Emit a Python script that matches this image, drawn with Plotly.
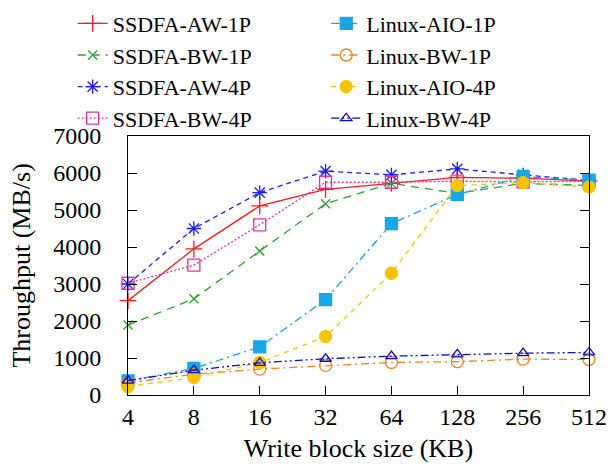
import math
import plotly.graph_objects as go

block_kb = [4, 8, 16, 32, 64, 128, 256, 512]
tick_labels = ["4", "8", "16", "32", "64", "128", "256", "512"]

ssdfa_aw_1p = [2550, 3950, 5110, 5560, 5720, 5880, 5860, 5780]
ssdfa_bw_1p = [1890, 2600, 3890, 5170, 5720, 5450, 5720, 5660]
ssdfa_aw_4p = [3000, 4500, 5470, 6050, 5950, 6110, 5950, 5800]
ssdfa_bw_4p = [3020, 3510, 4600, 5750, 5750, 5780, 5760, 5780]
linux_aio_1p = [380, 720, 1300, 2580, 4630, 5420, 5900, 5810]
linux_bw_1p = [330, 560, 700, 800, 880, 900, 970, 960]
linux_aio_4p = [230, 470, 880, 1580, 3290, 5660, 5740, 5620]
linux_bw_4p = [390, 670, 870, 980, 1050, 1100, 1130, 1150]

FONT = "Times New Roman"

series = [
    ("SSDFA-AW-1P", ssdfa_aw_1p, "#ff1a1a", "solid", "cross-thin", 12, "legend"),
    ("SSDFA-BW-1P", ssdfa_bw_1p, "#2ba22b", "8px,6px", "x-thin", 9, "legend"),
    ("SSDFA-AW-4P", ssdfa_aw_4p, "#1a1aff", "5px,4px", "asterisk", 12, "legend"),
    ("SSDFA-BW-4P", ssdfa_bw_4p, "#e6339a", "2px,2px", "square-open", 12, "legend"),
    ("Linux-AIO-1P", linux_aio_1p, "#16a8e6", "8px,4px,2px,4px", "square", 12, "legend2"),
    ("Linux-BW-1P", linux_bw_1p, "#f5801f", "8px,4px,2px,4px", "circle-open", 12, "legend2"),
    ("Linux-AIO-4P", linux_aio_4p, "#f5c400", "5px,5px", "circle", 12, "legend2"),
    ("Linux-BW-4P", linux_bw_4p, "#0b0bc8", "8px,3px,2px,3px,2px,3px", "triangle-up-open", 10, "legend2"),
]

fig = go.Figure()
for name, vals, color, dash, sym, size, leg in series:
    fig.add_trace(go.Scatter(
        x=block_kb, y=vals, name=name, mode="lines+markers",
        line=dict(color=color, width=1.3, dash=dash),
        marker=dict(symbol=sym, size=size, color=color,
                    line=dict(color=color, width=1.3)),
        cliponaxis=False, legend=leg,
    ))

legend_common = dict(
    font=dict(family=FONT, size=22, color="black"),
    bgcolor="rgba(0,0,0,0)", yanchor="top", xanchor="left",
    orientation="v", itemwidth=30,
)

x_lo = math.log10(block_kb[0]) - 1e-4
x_hi = math.log10(block_kb[-1]) + 1e-4

fig.update_layout(
    width=615, height=473,
    margin=dict(l=128, r=26, t=136, b=78, autoexpand=False),
    paper_bgcolor="white", plot_bgcolor="white",
    font=dict(family=FONT, size=24, color="black"),
    legend=dict(x=-0.12, y=1.515, **legend_common),
    legend2=dict(x=0.43, y=1.515, **legend_common),
    xaxis=dict(
        type="log", range=[x_lo, x_hi],
        tickvals=block_kb, ticktext=tick_labels,
        ticks="inside", ticklen=9, tickcolor="black", tickwidth=1,
        showline=True, linecolor="black", linewidth=1, mirror=True,
        showgrid=False, zeroline=False,
        tickfont=dict(family=FONT, size=24),
        title=dict(text="Write block size (KB)", font=dict(family=FONT, size=26), standoff=10),
        ticklabelstandoff=0,
    ),
    yaxis=dict(
        range=[0, 7000], tickvals=[0, 1000, 2000, 3000, 4000, 5000, 6000, 7000],
        ticks="inside", ticklen=9, tickcolor="black", tickwidth=1,
        showline=True, linecolor="black", linewidth=1, mirror="ticks",
        showgrid=False, zeroline=False,
        tickfont=dict(family=FONT, size=24),
        ticklabelstandoff=21,
    ),
    annotations=[dict(
        text="Throughput (MB/s)", textangle=-90, showarrow=False,
        xref="paper", yref="paper", x=-0.232, y=0.5,
        xanchor="center", yanchor="middle",
        font=dict(family=FONT, size=26, color="black"),
    )],
)

fig.write_html("out.html", post_script="document.body.style.margin='0';",
               config={"displayModeBar": False})
